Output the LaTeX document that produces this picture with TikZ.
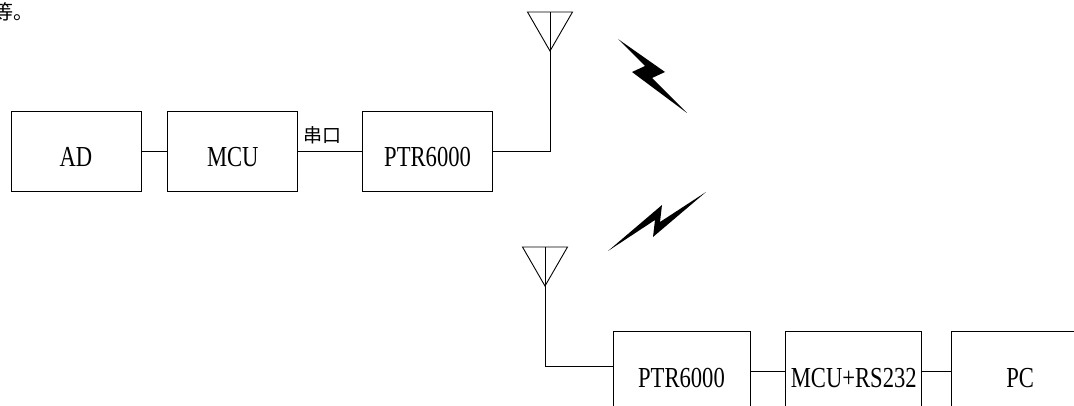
\documentclass[tikz,border=0pt]{standalone}
\usepackage{fontspec}
\setmainfont[FakeStretch=0.78]{Liberation Serif}
\newfontfamily\cjk{Noto Sans CJK SC}
\usetikzlibrary{positioning}
\tikzset{
  blk/.style={draw,line width=0.8pt,minimum width=130pt,minimum height=80pt,inner sep=0pt,
    font=\fontsize{29}{32}\selectfont,text height=32pt,text depth=0pt},
  wire/.style={line width=0.9pt},
  cjktxt/.style={inner sep=0pt,font=\cjk\fontsize{19}{19}\selectfont}
}
\begin{document}
\begin{tikzpicture}[x=1pt,y=1pt]
  \useasboundingbox (0,0) rectangle (1074,-406);
  \node[cjktxt,anchor=west,font=\cjk\fontsize{20}{20}\selectfont] (rest) at (-7,-12) {等。};
  \node[blk] (ad) at (76,-151) {AD};
  \node[blk,right=26pt of ad] (mcu) {MCU};
  \node[blk,right=64pt of mcu] (ptrtx) {PTR6000};
  \coordinate (anttx) at (550,-51);
  \draw[wire] (ad) -- (mcu);
  \draw[wire] (mcu) -- node[cjktxt,above=7pt,pos=.375] (uart) {串口} (ptrtx);
  \draw[wire] (ptrtx) -| (anttx);
  \draw[wire] (anttx) -- ++(-22.5,39) -- ++(45,0) -- cycle;
  \draw[wire] (anttx) -- ++(0,39);
  \fill (618,-39) -- (665,-72) -- (652,-78) -- (687,-113) -- (632,-72) -- (645,-66) -- cycle;
  \fill (608,-251) -- (662,-205) -- (660,-222) -- (706,-192) -- (653,-237) -- (655,-220) -- cycle;
  \node[blk,minimum width=137pt] (ptrrx) at (681.5,-371) {PTR6000};
  \node[blk,minimum width=136pt,right=35pt of ptrrx] (mcurx) {MCU+RS232};
  \node[blk,minimum width=137pt,right=29pt of mcurx] (pc) {PC};
  \coordinate (antrx) at (545,-286);
  \draw[wire] (antrx) -- ++(-22.5,39) -- ++(45,0) -- cycle;
  \draw[wire] (antrx) -- ++(0,39);
  \draw[wire] (antrx) |- ([yshift=5pt]ptrrx.west);
  \draw[wire] (ptrrx) -- (mcurx);
  \draw[wire] (mcurx) -- (pc);
\end{tikzpicture}
\end{document}
